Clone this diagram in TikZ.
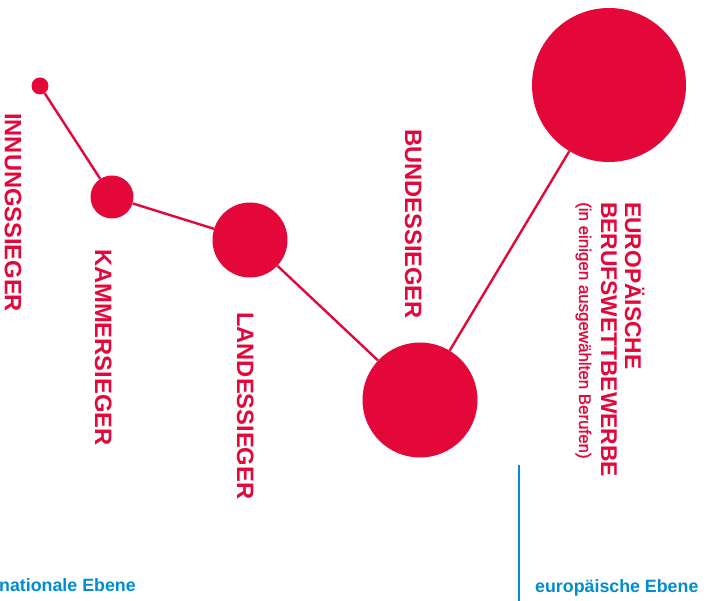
\documentclass[tikz,border=0pt]{standalone}
\usepackage{fontspec}
\setmainfont{Liberation Sans}
\newfontfamily\medfont[FakeBold=1.2]{Liberation Sans}
\definecolor{dred}{RGB}{228,8,58}
\definecolor{dblue}{RGB}{0,140,208}
\tikzset{
  dot/.style={circle,fill=dred,draw=none,inner sep=0pt},
  link/.style={draw=dred,line width=2.4pt},
  lab/.style={rotate=-90,anchor=base west,inner sep=0pt,text=dred,font=\fontsize{23.7}{26}\selectfont\bfseries},
  labeu/.style={rotate=-90,anchor=base west,inner sep=0pt,text=dred,font=\fontsize{22.8}{25}\selectfont\bfseries},
  labsm/.style={rotate=-90,anchor=base west,inner sep=0pt,text=dred,font=\medfont\fontsize{16.9}{19}\selectfont},
  level/.style={anchor=base west,inner sep=0pt,text=dblue,font=\fontsize{17.8}{19}\selectfont\bfseries}
}
\begin{document}
\begin{tikzpicture}[x=1pt,y=-1pt]
\useasboundingbox (0,0) rectangle (712,601);
\node[dot,minimum size=17pt] (c1) at (40,86) {};
\node[dot,minimum size=43pt] (c2) at (112,197) {};
\node[dot,minimum size=75pt] (c3) at (250,240) {};
\node[dot,minimum size=115pt] (c4) at (420,400) {};
\node[dot,minimum size=154pt] (c5) at (609,85) {};
\draw[link] (c1) -- (c2);
\draw[link] (c2) -- (c3);
\draw[link] (c3) -- (c4);
\draw[link] (c4) -- (c5);
\node[lab] (t1) at (5,113) {INNUNGSSIEGER};
\node[lab] (t2) at (95,249) {KAMMERSIEGER};
\node[lab] (t3) at (237,312) {LANDESSIEGER};
\node[lab] (t4) at (405,129) {BUNDESSIEGER};
\node[labeu] (t5) at (625,202) {EUROPÄISCHE};
\node[labeu] (t6) at (601,202) {BERUFSWETTBEWERBE};
\node[labsm] (t7) at (579,202) {(in einigen ausgewählten Berufen)};
\coordinate (b1) at (519,465);
\coordinate (b2) at (519,601);
\draw[dblue,line width=2pt] (b1) -- (b2);
\node[level] (n1) at (-1,591) {nationale Ebene};
\node[level] (n2) at (535,592) {europäische Ebene};
\end{tikzpicture}
\end{document}
